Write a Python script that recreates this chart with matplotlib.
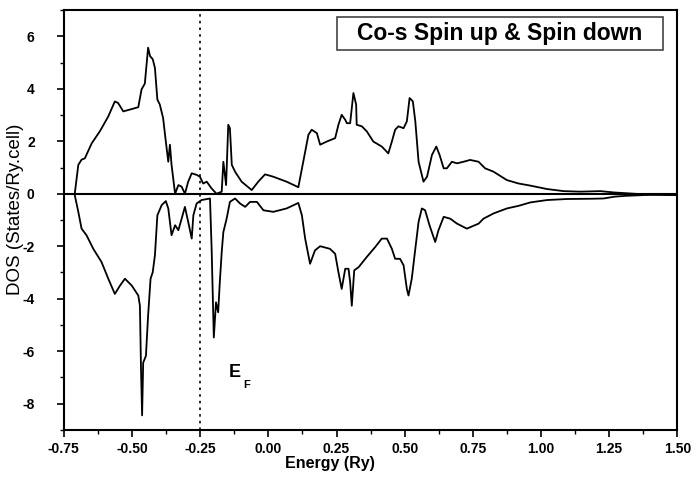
import matplotlib.pyplot as plt
from matplotlib.patches import Rectangle
from matplotlib.ticker import MultipleLocator

# Co-s partial DOS, spin up (positive) and spin down (negative)
up_e = [-0.71, -0.697, -0.685, -0.673, -0.648, -0.618, -0.587, -0.563, -0.551, -0.532,
        -0.477, -0.465, -0.453, -0.441, -0.434, -0.424, -0.416, -0.407, -0.398, -0.386,
        -0.376, -0.367, -0.361, -0.355, -0.342, -0.330, -0.318, -0.306, -0.294, -0.281,
        -0.263, -0.251, -0.239, -0.226, -0.208, -0.19, -0.171, -0.165, -0.155, -0.147,
        -0.141, -0.134, -0.122, -0.098, -0.061, -0.037, -0.012, 0.018, 0.067, 0.11,
        0.128, 0.147, 0.159, 0.178, 0.19, 0.214, 0.245, 0.257, 0.269, 0.282,
        0.288, 0.3, 0.312, 0.322, 0.324, 0.343, 0.361, 0.385, 0.416, 0.44,
        0.453, 0.465, 0.477, 0.496, 0.508, 0.518, 0.53, 0.539, 0.551, 0.569,
        0.582, 0.6, 0.616, 0.628, 0.643, 0.655, 0.673, 0.692, 0.716, 0.74,
        0.771, 0.795, 0.826, 0.875, 0.918, 0.961, 1.022, 1.083, 1.144, 1.218,
        1.267, 1.328, 1.39, 1.463, 1.5]
up_dos = [0.0, 1.1, 1.3, 1.35, 1.92, 2.38, 2.95, 3.52, 3.46, 3.14,
          3.30, 3.98, 4.2, 5.57, 5.25, 5.13, 4.8, 3.59, 3.4, 2.89,
          1.99, 1.22, 1.87, 1.1, 0.0, 0.33, 0.27, 0.0, 0.46, 0.78,
          0.72, 0.65, 0.39, 0.46, 0.2, 0.0, 0.08, 1.22, 0.33, 2.63,
          2.5, 1.1, 0.84, 0.46, 0.14, 0.46, 0.74, 0.65, 0.46, 0.25,
          1.22, 2.25, 2.44, 2.31, 1.87, 1.99, 2.12, 2.63, 3.01, 2.82,
          2.69, 2.69, 3.84, 3.4, 2.63, 2.57, 2.38, 1.99, 1.8, 1.54,
          1.99, 2.44, 2.57, 2.5, 2.76, 3.65, 3.52, 2.76, 1.22, 0.46,
          0.65, 1.48, 1.8, 1.48, 0.97, 0.97, 1.22, 1.16, 1.22, 1.29,
          1.22, 0.97, 0.84, 0.52, 0.39, 0.31, 0.18, 0.10, 0.08, 0.10,
          0.05, 0.01, -0.03, -0.05, -0.05]

dn_e = [-0.71, -0.697, -0.685, -0.667, -0.642, -0.612, -0.587, -0.563, -0.544, -0.526,
        -0.501, -0.477, -0.471, -0.467, -0.463, -0.459, -0.449, -0.441, -0.432, -0.424,
        -0.416, -0.407, -0.391, -0.376, -0.367, -0.355, -0.342, -0.33, -0.318, -0.306,
        -0.294, -0.281, -0.275, -0.263, -0.245, -0.214, -0.208, -0.202, -0.2, -0.192,
        -0.184, -0.178, -0.171, -0.165, -0.153, -0.141, -0.122, -0.104, -0.085, -0.067,
        -0.042, -0.018, 0.018, 0.067, 0.11, 0.123, 0.135, 0.153, 0.171, 0.19,
        0.226, 0.245, 0.257, 0.269, 0.282, 0.294, 0.3, 0.306, 0.315, 0.331,
        0.361, 0.392, 0.416, 0.435, 0.453, 0.465, 0.483, 0.496, 0.508, 0.514,
        0.526, 0.539, 0.551, 0.563, 0.575, 0.591, 0.612, 0.624, 0.643, 0.667,
        0.692, 0.728, 0.771, 0.789, 0.826, 0.875, 0.918, 0.961, 1.022, 1.096,
        1.19, 1.23, 1.27, 1.31, 1.4, 1.5]
dn_dos = [-0.05, -0.69, -1.33, -1.58, -2.1, -2.6, -3.24, -3.82, -3.5, -3.24,
          -3.5, -3.88, -4.27, -6.69, -8.45, -6.44, -6.18, -4.65, -3.24, -2.99,
          -2.35, -0.82, -0.43, -0.28, -0.56, -1.58, -1.2, -1.39, -0.95, -0.5,
          -1.07, -1.71, -0.82, -0.37, -0.24, -0.18, -2.1, -4.65, -5.48, -4.14,
          -4.52, -3.37, -2.22, -1.46, -0.95, -0.31, -0.18, -0.37, -0.5, -0.31,
          -0.31, -0.63, -0.69, -0.56, -0.35, -0.82, -1.71, -2.67, -2.16, -2.0,
          -2.1, -2.29, -2.99, -3.63, -2.86, -2.86, -3.37, -4.27, -2.92, -2.8,
          -2.41, -2.03, -1.71, -1.71, -2.1, -2.48, -2.48, -2.73, -3.63, -3.88,
          -3.24, -2.1, -1.07, -0.56, -0.63, -1.2, -1.84, -1.39, -0.88, -0.95,
          -1.14, -1.33, -1.14, -0.95, -0.75, -0.56, -0.46, -0.33, -0.24, -0.2,
          -0.19, -0.18, -0.11, -0.08, -0.04, -0.02]

e_fermi = -0.25
xticks = [-0.75, -0.50, -0.25, 0.00, 0.25, 0.50, 0.75, 1.00, 1.25, 1.50]
yticks = [-8, -6, -4, -2, 0, 2, 4, 6]

plt.rcParams['font.family'] = ['Liberation Sans', 'DejaVu Sans']

fig = plt.figure(figsize=(6.94, 4.84), dpi=100)
ax = fig.add_axes([0.092, 0.112, 0.884, 0.867])

ax.plot(up_e, up_dos, color='black', lw=1.3)
ax.plot(dn_e, dn_dos, color='black', lw=1.3)
ax.axhline(0, color='black', lw=1.5)
ax.axvline(e_fermi, color='black', lw=1.2, ls=(0, (1.5, 2.5)))

ax.set_xlim(-0.75, 1.50)
ax.set_ylim(-9, 7)
ax.set_xticks(xticks)
ax.set_xticklabels(['%.2f' % v for v in xticks], fontweight='bold', fontsize=10)
ax.set_yticks(yticks)
ax.set_yticklabels([str(v) for v in yticks], fontweight='bold', fontsize=10)
ax.xaxis.set_minor_locator(MultipleLocator(0.125))
ax.yaxis.set_minor_locator(MultipleLocator(1))
ax.tick_params(which='major', direction='out', length=5, width=1.2)
ax.tick_params(which='minor', direction='out', length=3, width=1.0)
ax.tick_params(axis='y', which='major', pad=16)
ax.tick_params(axis='x', which='major', pad=4)
for sp in ax.spines.values():
    sp.set_linewidth(1.5)

ax.set_xlabel('Energy (Ry)', fontsize=11.5, fontweight='bold')
ax.xaxis.set_label_coords(0.434, -0.063)
ax.set_ylabel('DOS (States/Ry.cell)', fontsize=13.5)
ax.yaxis.set_label_coords(-0.065, 0.526)

# Fermi level label
ax.text(-0.145, -6.8, 'E', fontsize=13, fontweight='bold', ha='left', va='center')
ax.text(-0.093, -7.3, 'F', fontsize=8, fontweight='bold', ha='left', va='center')

# title box in the upper right corner
ax.add_patch(Rectangle((0.445, 0.905), 0.532, 0.078, transform=ax.transAxes,
                       fc='white', ec='#444444', lw=1.2, zorder=3))
ax.text(0.711, 0.944, 'Co-s Spin up & Spin down', transform=ax.transAxes,
        fontsize=16.5, fontweight='bold', ha='center', va='center', zorder=4)

fig.savefig('out.png', dpi=100)
